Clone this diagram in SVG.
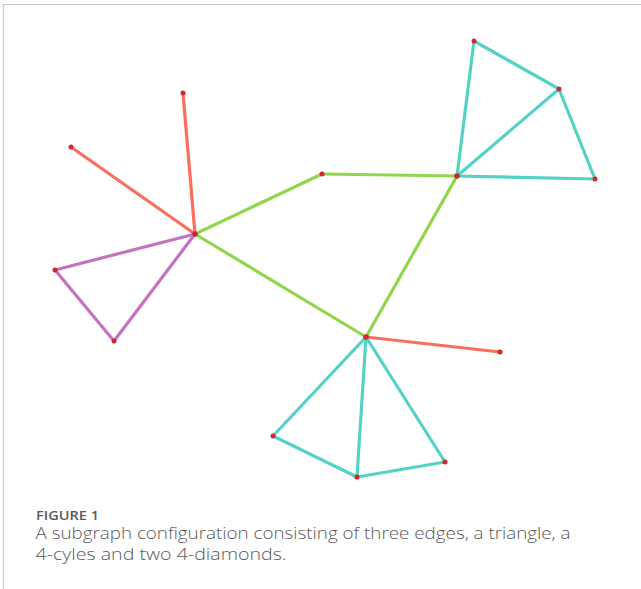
<svg xmlns="http://www.w3.org/2000/svg" width="641" height="589" viewBox="0 0 641 589">
  <style>
    .e { stroke-width: 3.2; stroke-linecap: round; fill: none; }
    .red { stroke: #f8705f; }
    .pur { stroke: #c572c1; }
    .grn { stroke: #90d74c; }
    .cyn { stroke: #55d2c6; }
    .n { fill: #d2262e; }
    .cap { font-family: "Open Sans", "Liberation Sans", sans-serif; fill: #5a5a5a; }
  </style>
  <rect width="641" height="589" fill="#ffffff"/>
  <!-- frame -->
  <path d="M3.5 589 V4.5 H641" fill="none" stroke="#c8c8c8" stroke-width="1.2"/>

  <g id="connectors">
    <line class="e red" x1="195" y1="234" x2="183" y2="93"/>
    <line class="e red" x1="195" y1="234" x2="71" y2="147"/>
    <line class="e red" x1="366" y1="337" x2="500" y2="352"/>
    <line class="e pur" x1="195" y1="234" x2="55" y2="270"/>
    <line class="e pur" x1="55" y1="270" x2="114" y2="341"/>
    <line class="e pur" x1="114" y1="341" x2="195" y2="234"/>
    <line class="e grn" x1="195" y1="234" x2="322" y2="174"/>
    <line class="e grn" x1="322" y1="174" x2="457" y2="176"/>
    <line class="e grn" x1="457" y1="176" x2="366" y2="337"/>
    <line class="e grn" x1="366" y1="337" x2="195" y2="234"/>
    <line class="e cyn" x1="457" y1="176" x2="474" y2="41"/>
    <line class="e cyn" x1="474" y1="41" x2="559" y2="89"/>
    <line class="e cyn" x1="559" y1="89" x2="595" y2="179"/>
    <line class="e cyn" x1="595" y1="179" x2="457" y2="176"/>
    <line class="e cyn" x1="457" y1="176" x2="559" y2="89"/>
    <line class="e cyn" x1="366" y1="337" x2="273" y2="436"/>
    <line class="e cyn" x1="273" y1="436" x2="357" y2="477"/>
    <line class="e cyn" x1="357" y1="477" x2="445" y2="462"/>
    <line class="e cyn" x1="445" y1="462" x2="366" y2="337"/>
    <line class="e cyn" x1="366" y1="337" x2="357" y2="477"/>
  </g>

  <g id="node-hub"><circle class="n" cx="195" cy="234" r="2.8"/></g>
  <g id="node-r1"><circle class="n" cx="183" cy="93" r="2.5"/></g>
  <g id="node-r2"><circle class="n" cx="71" cy="147" r="2.5"/></g>
  <g id="node-p1"><circle class="n" cx="55" cy="270" r="2.5"/></g>
  <g id="node-p2"><circle class="n" cx="114" cy="341" r="2.5"/></g>
  <g id="node-g1"><circle class="n" cx="322" cy="174" r="2.5"/></g>
  <g id="node-g2"><circle class="n" cx="457" cy="176" r="2.8"/></g>
  <g id="node-g3"><circle class="n" cx="366" cy="337" r="2.8"/></g>
  <g id="node-t1"><circle class="n" cx="474" cy="41" r="2.5"/></g>
  <g id="node-t2"><circle class="n" cx="559" cy="89" r="2.5"/></g>
  <g id="node-t3"><circle class="n" cx="595" cy="179" r="2.5"/></g>
  <g id="node-r3"><circle class="n" cx="500" cy="352" r="2.5"/></g>
  <g id="node-b1"><circle class="n" cx="273" cy="436" r="2.5"/></g>
  <g id="node-b2"><circle class="n" cx="357" cy="477" r="2.5"/></g>
  <g id="node-b3"><circle class="n" cx="445" cy="462" r="2.5"/></g>

  <g id="caption">
    <text class="cap" x="36" y="519.5" font-size="12.5" font-weight="600" fill="#555555" textLength="63" lengthAdjust="spacingAndGlyphs">FIGURE 1</text>
    <text class="cap" x="35.5" y="539" font-size="16.3" font-weight="300" textLength="535" lengthAdjust="spacingAndGlyphs">A subgraph configuration consisting of three edges, a triangle, a</text>
    <text class="cap" x="35.5" y="559.5" font-size="16.3" font-weight="300" textLength="251" lengthAdjust="spacingAndGlyphs">4-cyles and two 4-diamonds.</text>
  </g>
</svg>
